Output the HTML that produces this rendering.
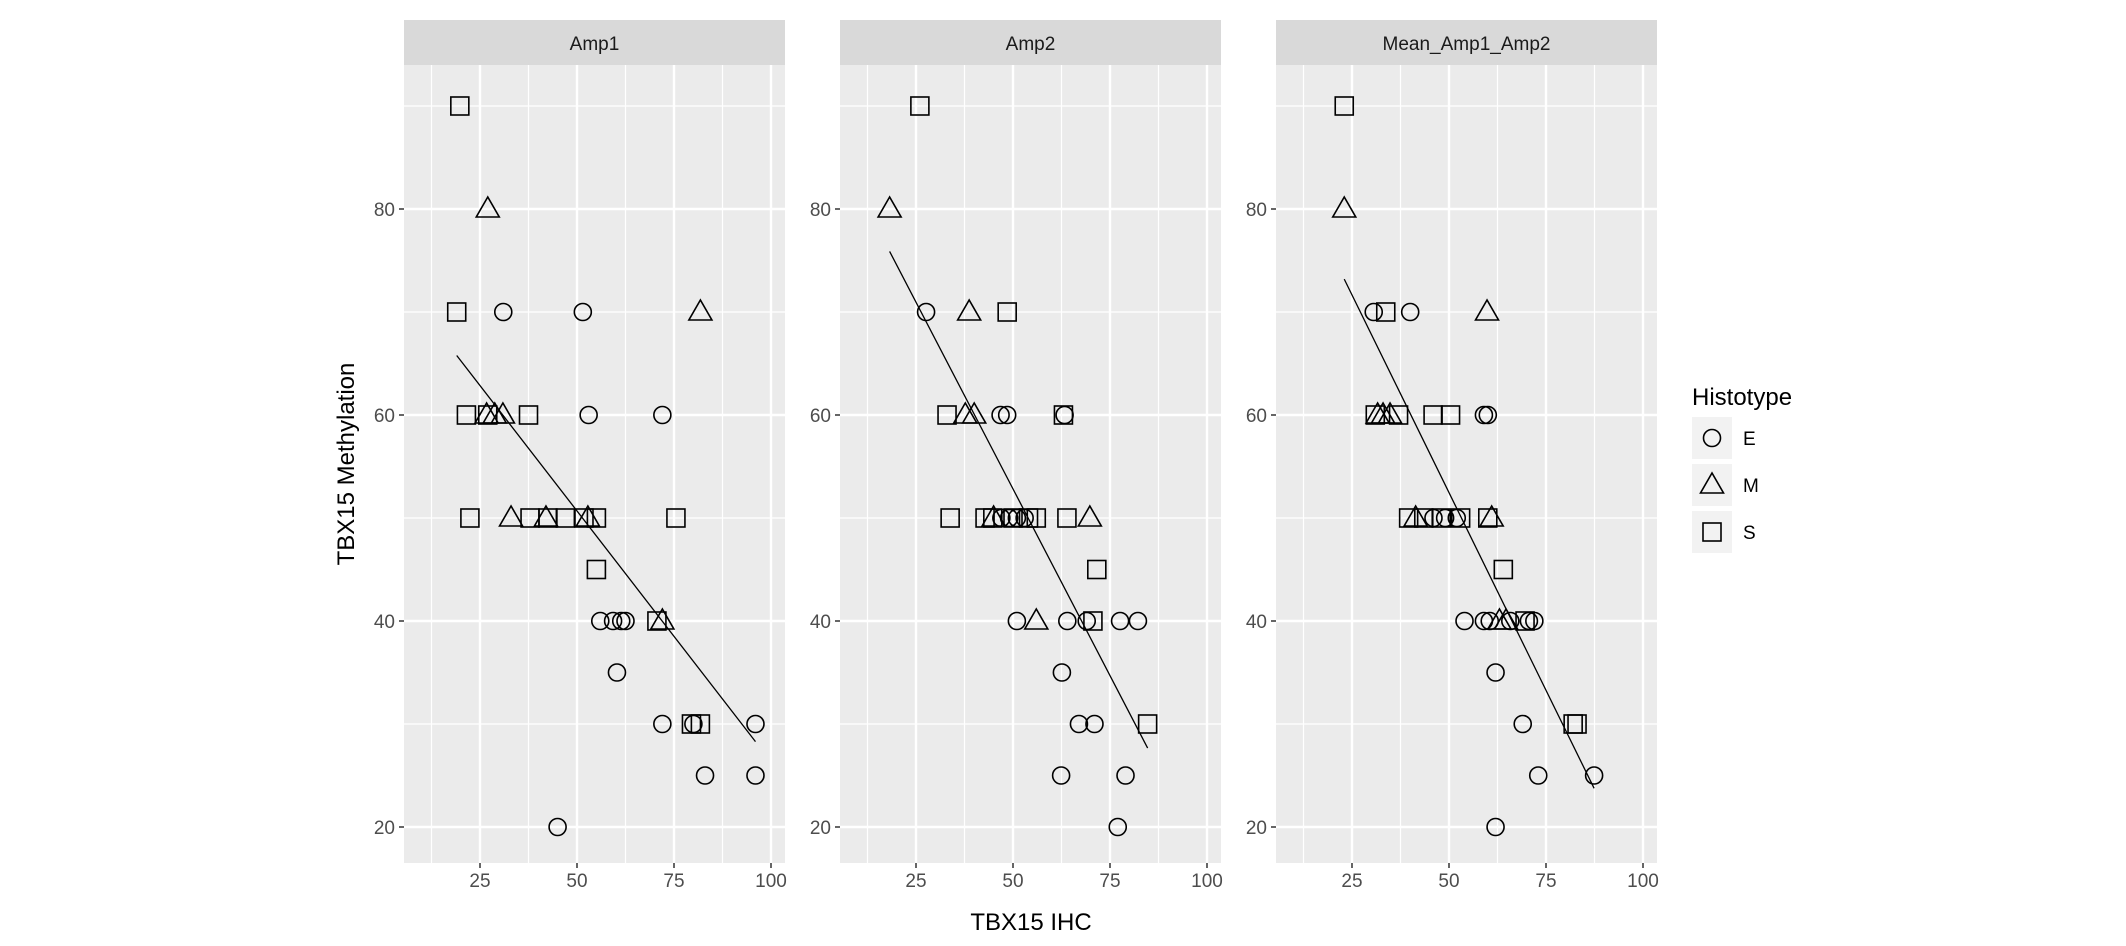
<!DOCTYPE html>
<html><head><meta charset="utf-8"><style>
body{margin:0;background:#fff;}
svg{display:block;font-family:"Liberation Sans",sans-serif;}
</style></head><body>
<svg id="chart" width="2126" height="946"></svg>
<script>
const panelTitles = ["Amp1","Amp2","Mean_Amp1_Amp2"];
const xTicks = [25,50,75,100];
const yTicks = [20,40,60,80];
const histotypes = ["E","M","S"];
// panel 1
const p1E_x=[31,51.5,53,72,56,59.3,61.4,62.5,60.3,72,80,83,96,96,45];
const p1E_y=[70,70,60,60,40,40,40,40,35,30,30,25,30,25,20];
const p1M_x=[27,81.8,26.7,28.8,30.9,33,42,52.8,72];
const p1M_y=[80,70,60,60,60,50,50,50,40];
const p1S_x=[19.8,19,21.5,22.4,37.5,55,75.5,81.8,37.9,42.5,47,51.8,55,27,70.6,79.5];
const p1S_y=[90,70,60,50,60,45,50,30,50,50,50,50,50,60,40,30];
// panel 2
const p2E_x=[27.6,46.8,48.5,63.3,47,49,51,53,51,64,69,77.6,82.2,62.6,67,71,62.4,79,77];
const p2E_y=[70,60,60,60,50,50,50,50,40,40,40,40,40,35,30,30,25,25,20];
const p2M_x=[18.2,38.7,37.7,40,45,69.8,56];
const p2M_y=[80,70,60,60,50,50,40];
const p2S_x=[26,48.5,33,63,33.8,42.8,44.8,50,54,56,63.9,71.6,70.6,84.7];
const p2S_y=[90,70,60,60,50,50,50,50,50,50,50,45,40,30];
// panel 3
const p3E_x=[30.6,40,59,60,46,49,52,54,59,60.5,65.8,70.6,72,62,69,73,87.4,62];
const p3E_y=[70,70,60,60,50,50,50,40,40,40,40,40,40,35,30,25,25,20];
const p3M_x=[23,59.8,31.6,33,34.8,41.4,61,63,64.7];
const p3M_y=[80,70,60,60,60,50,50,40,40];
const p3S_x=[23,33.7,31,37,45.9,50.4,39.6,43.5,48,53,60,64,69.6,82,83];
const p3S_y=[90,70,60,60,60,60,50,50,50,50,50,45,40,30,30];

const panels=[
 {E:[p1E_x,p1E_y],M:[p1M_x,p1M_y],S:[p1S_x,p1S_y]},
 {E:[p2E_x,p2E_y],M:[p2M_x,p2M_y],S:[p2S_x,p2S_y]},
 {E:[p3E_x,p3E_y],M:[p3M_x,p3M_y],S:[p3S_x,p3S_y]}
];
const NS="http://www.w3.org/2000/svg";
const svg=document.getElementById('chart');
function mk(tag,attrs,parent){const e=document.createElementNS(NS,tag);for(const k in attrs)e.setAttribute(k,attrs[k]);(parent||svg).appendChild(e);return e;}
const lefts=[404,840,1276], W=381, plotTop=65, plotBottom=863;
function xs(i,v){return lefts[i]+76+(v-25)*3.88;}
function ys(v){return 621-(v-40)*10.3;}
function drawShape(g,t,cx,cy){
  let e;
  if(t==="E"){e=mk('circle',{cx:cx,cy:cy,r:8.5,fill:'none',stroke:'#000','stroke-width':1.6},g);}
  else if(t==="M"){e=mk('polygon',{points:`${cx},${cy-12} ${cx-11.5},${cy+8} ${cx+11.5},${cy+8}`,fill:'none',stroke:'#000','stroke-width':1.6},g);}
  else {e=mk('rect',{x:cx-9,y:cy-9,width:18,height:18,fill:'none',stroke:'#000','stroke-width':1.6},g);}
  return e;
}
panels.forEach((p,i)=>{
  const L=lefts[i];
  const g=mk('g',{});
  
  
  const bg=mk('rect',{x:L,y:plotTop,width:W,height:plotBottom-plotTop,fill:'#ebebeb'},g);
  
  
  const st=mk('rect',{x:L,y:20,width:W,height:45,fill:'#d9d9d9'},g);
  
  
  const stt=mk('text',{x:L+W/2,y:50,'text-anchor':'middle','font-size':19,fill:'#1a1a1a'},g);
  stt.textContent=panelTitles[i];
  
  
  for(let v=12.5;v<=100;v+=25){const x=xs(i,v);if(x>L&&x<L+W)mk('line',{x1:x,x2:x,y1:plotTop,y2:plotBottom,stroke:'#fff','stroke-width':1.2},g);}
  for(let v=30;v<=90;v+=20){mk('line',{x1:L,x2:L+W,y1:ys(v),y2:ys(v),stroke:'#fff','stroke-width':1.2},g);}
  xTicks.forEach(v=>{const x=xs(i,v);mk('line',{x1:x,x2:x,y1:plotTop,y2:plotBottom,stroke:'#fff','stroke-width':2.4},g);
    mk('line',{x1:x,x2:x,y1:plotBottom,y2:plotBottom+5,stroke:'#333','stroke-width':1.5},g);
    const t=mk('text',{x:x,y:plotBottom+24,'text-anchor':'middle','font-size':19,fill:'#4d4d4d'},g);t.textContent=v;
    
    });
  yTicks.forEach(v=>{const y=ys(v);mk('line',{x1:L,x2:L+W,y1:y,y2:y,stroke:'#fff','stroke-width':2.4},g);
    mk('line',{x1:L-5,x2:L,y1:y,y2:y,stroke:'#333','stroke-width':1.5},g);
    const t=mk('text',{x:L-9,y:y+7,'text-anchor':'end','font-size':19,fill:'#4d4d4d'},g);t.textContent=v;
    
    });
  let ax=[],ay=[];histotypes.forEach(h=>{ax=ax.concat(p[h][0]);ay=ay.concat(p[h][1]);});
  const n=ax.length,mx=ax.reduce((a,b)=>a+b)/n,my=ay.reduce((a,b)=>a+b)/n;
  let sxy=0,sxx=0;for(let k=0;k<n;k++){sxy+=(ax[k]-mx)*(ay[k]-my);sxx+=(ax[k]-mx)**2;}
  const b=sxy/sxx,a=my-b*mx,x0=Math.min(...ax),x1=Math.max(...ax);
  const ln=mk('line',{x1:xs(i,x0),y1:ys(a+b*x0),x2:xs(i,x1),y2:ys(a+b*x1),stroke:'#000','stroke-width':1.3},g);
  
  
  histotypes.forEach(h=>{const [X,Y]=p[h];X.forEach((xv,k)=>{
    const e=drawShape(g,h,xs(i,xv),ys(Y[k]));
    
    
  });});
});
const xt=mk('text',{x:1031,y:930,'text-anchor':'middle','font-size':24,fill:'#000'});xt.textContent="TBX15 IHC";


const yt=mk('text',{x:354,y:464,'text-anchor':'middle','font-size':24,fill:'#000',transform:'rotate(-90 354 464)'});yt.textContent="TBX15 Methylation";


const lg=mk('g',{});


const lt=mk('text',{x:1692,y:405,'font-size':24,fill:'#000'},lg);lt.textContent="Histotype";


histotypes.forEach((h,k)=>{const cy=438+k*47;
  const kb=mk('rect',{x:1692,y:cy-21,width:40,height:42,fill:'#f2f2f2'},lg);
  
  
  drawShape(lg,h,1712,cy);
  const t=mk('text',{x:1743,y:cy+7,'font-size':19,fill:'#000'},lg);t.textContent=h;
  
  
});
</script>
</body></html>
